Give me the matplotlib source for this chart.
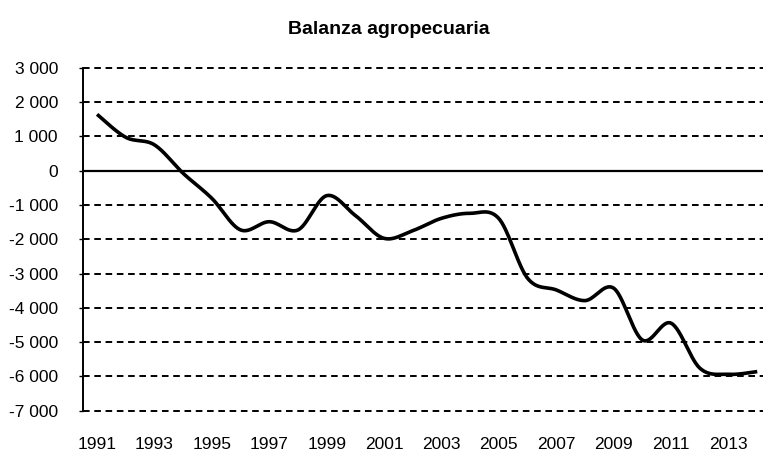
import numpy as np
import matplotlib
matplotlib.use("Agg")
import matplotlib.pyplot as plt
from matplotlib.ticker import FuncFormatter

years = list(range(1991, 2015))
balance = [1640, 970, 750, -80, -810, -1730, -1490, -1730, -730, -1310,
           -1975, -1750, -1390, -1245, -1400, -3140, -3480, -3790, -3430,
           -4940, -4450, -5760, -5940, -5860]
xtick_years = list(range(1991, 2014, 2))
yticks = list(range(-7000, 3001, 1000))
title = "Balanza agropecuaria"


def smooth(x, y, n=30):
    x = np.asarray(x, float)
    y = np.asarray(y, float)
    px, py = [], []
    m = len(x)
    for i in range(m - 1):
        p0 = (x[max(i - 1, 0)], y[max(i - 1, 0)])
        p1 = (x[i], y[i])
        p2 = (x[i + 1], y[i + 1])
        p3 = (x[min(i + 2, m - 1)], y[min(i + 2, m - 1)])
        c1 = (p1[0] + (p2[0] - p0[0]) / 6, p1[1] + (p2[1] - p0[1]) / 6)
        c2 = (p2[0] - (p3[0] - p1[0]) / 6, p2[1] - (p3[1] - p1[1]) / 6)
        t = np.linspace(0, 1, n, endpoint=(i == m - 2))
        b0 = (1 - t) ** 3
        b1 = 3 * (1 - t) ** 2 * t
        b2 = 3 * (1 - t) * t ** 2
        b3 = t ** 3
        px.extend(b0 * p1[0] + b1 * c1[0] + b2 * c2[0] + b3 * p2[0])
        py.extend(b0 * p1[1] + b1 * c1[1] + b2 * c2[1] + b3 * p2[1])
    return np.array(px), np.array(py)


plt.rcParams['font.family'] = ['Liberation Sans', 'DejaVu Sans']

fig = plt.figure(figsize=(7.63, 4.53), dpi=100)
ax = fig.add_axes([83 / 763, 1 - 410.7 / 453, 1 - 83 / 763, (410.7 - 67.7) / 453])

ax.set_xlim(1990.51, 2014.2)
ax.set_ylim(-7000, 3000)

for v in yticks:
    if v == 0:
        ax.axhline(0, color='black', lw=1.6, zorder=2)
    else:
        ax.axhline(v, color='black', lw=1.4, dashes=(3.4, 2.4), zorder=1, clip_on=False)

sx, sy = smooth(years, balance)
ax.plot(sx, sy, color='black', lw=2.6, solid_capstyle='butt', zorder=3)

for s in ['top', 'right', 'bottom']:
    ax.spines[s].set_visible(False)
ax.spines['left'].set_linewidth(1.4)

ax.set_yticks(yticks)
ax.yaxis.set_major_formatter(FuncFormatter(lambda v, p: f"{int(v):,}".replace(",", " ")))
ax.tick_params(axis='y', length=3, width=1.0, pad=15, labelsize=12.5)
ax.set_xticks(xtick_years)
ax.set_xticklabels([str(y) for y in xtick_years])
ax.tick_params(axis='x', length=0, pad=19, labelsize=12.5)

fig.text(389 / 763, 1 - 29 / 453, title, ha='center', va='center',
         fontsize=14, fontweight='bold')

fig.savefig("out.png", dpi=100)
